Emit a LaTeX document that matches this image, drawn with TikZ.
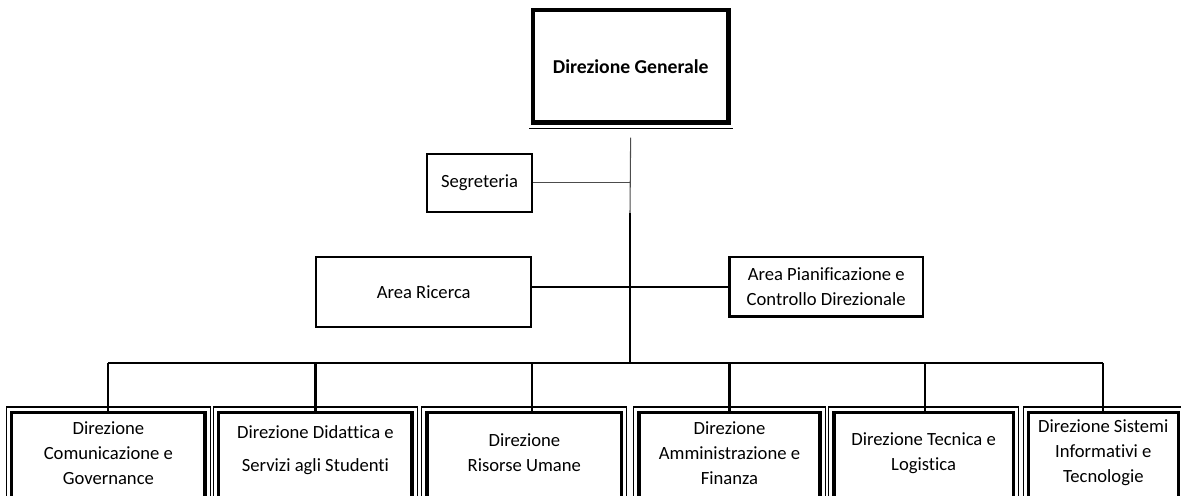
\documentclass[tikz,border=0pt]{standalone}
\usepackage{fontspec}
\setmainfont[Ligatures=NoCommon]{Carlito}
\usetikzlibrary{calc}
\newcommand{\orgfont}{\fontsize{10.6}{14.2}\selectfont}
\def\drawlink{\draw[color=black, line width=1.3pt]}
\def\drawfine{\draw[color=black!70, line width=0.6pt]}
\def\drawrule{\draw[color=black, line width=0.6pt]}
\def\boxnode{\node[draw=black, line width=1.3pt, inner sep=0pt, font=\orgfont, align=center]}
\def\dirframe{\node[draw=black, line width=1.9pt, inner sep=0pt, anchor=north, minimum height=2.2cm]}
\def\dirtext{\node[font=\orgfont, align=center, inner sep=0pt]}

\begin{document}
\begin{tikzpicture}[x=0.02cm, y=-0.02cm]
\useasboundingbox (0,0) rectangle (1181,495);
\clip (0,0) rectangle (1181,495);
% top
\node[draw=black, line width=2.3pt, minimum width=3.91cm, minimum height=2.25cm, font=\fontsize{11.2}{14.2}\selectfont\bfseries] (gen) at (630.75,66.25) {Direzione Generale};
\drawrule ([shift={(-2,4)}]gen.south west) -- ([shift={(2,4)}]gen.south east);
\coordinate (split) at (630,213);
\coordinate (bus) at (630,363);
\boxnode[line width=1.1pt, minimum width=2.11cm, minimum height=1.16cm] (seg) at (479.5,182.7) {Segreteria};
\boxnode[minimum width=4.3cm, minimum height=1.4cm] (ricerca) at (423.7,292.2) {Area Ricerca};
\boxnode[minimum width=3.87cm, minimum height=1.19cm] (pian) at (826.2,286.8) {Area Pianificazione e\\Controllo Direzionale};
\drawfine[shorten <=0.26cm] (gen.south) -- (split);
\drawfine (seg.east) -- (seg.east -| split);
\drawlink (split) -- (bus);
\drawlink (ricerca.east |- pian.west) -- (pian.west);
% direzioni
\dirframe[minimum width=3.866cm] (fcom) at (108.35,410.5) {};
\dirframe[minimum width=3.866cm] (fdid) at (315.4,410.5) {};
\dirframe[minimum width=3.894cm] (fris) at (524.35,410.5) {};
\dirframe[minimum width=3.62cm] (famm) at (729.5,410.5) {};
\dirframe[minimum width=3.586cm] (ftec) at (923.65,410.5) {};
\dirframe[minimum width=3.0cm] (fsis) at (1103.3,410.5) {};
\foreach \f in {fcom,fdid,fris,famm,ftec,fsis}
  \drawrule ([shift={(-3.5,-3.5)}]\f.north west) rectangle ([shift={(3.5,3.5)}]\f.south east);
\dirtext (dcom) at (fcom.north |- 0,453) {Direzione\\Comunicazione e\\Governance};
\dirtext (ddid) at (fdid.north |- 0,450) {Direzione Didattica e\\[5pt]Servizi agli Studenti};
\dirtext (dris) at (fris.north |- 0,453) {Direzione\\Risorse Umane};
\dirtext (damm) at (famm.north |- 0,453) {Direzione\\Amministrazione e\\Finanza};
\dirtext (dtec) at (ftec.north |- 0,453) {Direzione Tecnica e\\Logistica};
\dirtext (dsis) at (fsis.north |- 0,453) {Direzione Sistemi\\Informativi e\\Tecnologie};
\drawlink (fcom.north |- bus) -- (fsis.north |- bus);
\drawlink (fcom.north |- bus) -- (fcom.north);
\drawlink (fdid.north |- bus) -- (fdid.north);
\drawlink ([xshift=0.15cm]fris.north |- bus) -- ([xshift=0.15cm]fris.north);
\drawlink (famm.north |- bus) -- (famm.north);
\drawlink ([xshift=0.03cm]ftec.north |- bus) -- ([xshift=0.03cm]ftec.north);
\drawlink (fsis.north |- bus) -- (fsis.north);
\end{tikzpicture}
\end{document}
